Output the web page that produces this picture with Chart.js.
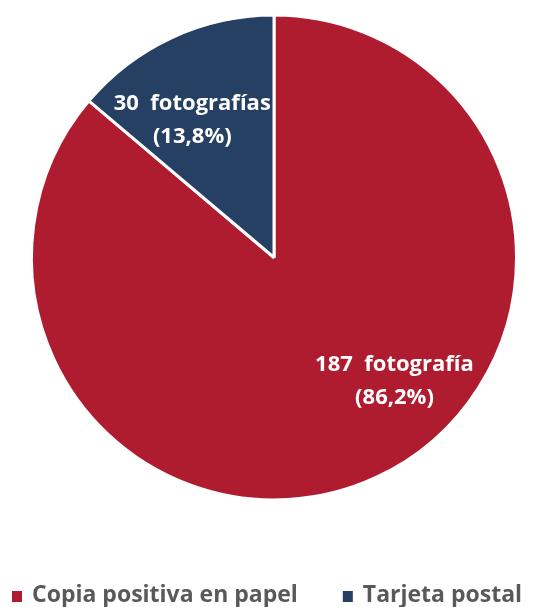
<!DOCTYPE html>
<html>
<head>
<meta charset="utf-8">
<script src="https://cdn.jsdelivr.net/npm/chart.js@4"></script>
<style>
  html, body { margin: 0; padding: 0; background: #ffffff; }
  #wrap { width: 552px; height: 607px; position: relative; }
</style>
</head>
<body>
<div id="wrap"><canvas id="c" width="552" height="607"></canvas></div>
<script>
// Photographs by support type
const categories = ['Copia positiva en papel', 'Tarjeta postal'];
const counts = [187, 30];
const countWords = ['fotografía', 'fotografías'];
const sliceColors = ['#AF1C2F', '#254062'];

const total = counts.reduce((a, b) => a + b, 0);
const pct = v => (v / total * 100).toFixed(1).replace('.', ',') + '%';

// Where each in-slice label sits: angle (deg, clockwise from 3 o'clock) and fraction of the radius
const labelPlacement = [
  { angle: 45.6, frac: 0.71 },
  { angle: -120.7, frac: 0.66 }
];

const labelFont = 'bold 22px "Open Sans", Lato, sans-serif';
const legendFont = 'bold 23px "Open Sans", Lato, sans-serif';

const sliceLabelPlugin = {
  id: 'sliceLabels',
  afterDatasetsDraw(chart) {
    const ctx = chart.ctx;
    const meta = chart.getDatasetMeta(0);
    ctx.save();
    ctx.fillStyle = '#ffffff';
    ctx.font = labelFont;
    ctx.textAlign = 'center';
    ctx.textBaseline = 'middle';
    meta.data.forEach((arc, i) => {
      const p = labelPlacement[i];
      const a = p.angle * Math.PI / 180;
      const r = arc.outerRadius * p.frac;
      const x = arc.x + Math.cos(a) * r;
      const y = arc.y + Math.sin(a) * r;
      ctx.fillText(counts[i] + '  ' + countWords[i], x, y - 16);
      ctx.fillText('(' + pct(counts[i]) + ')', x, y + 17);
    });
    ctx.restore();
  }
};

const bottomLegendPlugin = {
  id: 'bottomLegend',
  afterDraw(chart) {
    const ctx = chart.ctx;
    ctx.save();
    ctx.font = legendFont;
    ctx.textBaseline = 'middle';
    ctx.textAlign = 'left';
    const y = 596;
    let x = 12;
    categories.forEach((name, i) => {
      ctx.fillStyle = sliceColors[i];
      ctx.fillRect(x, y - 5, 10, 11);
      ctx.fillStyle = '#595959';
      ctx.fillText(name, x + 20, y - 1);
      x += 20 + ctx.measureText(name).width + 45;
    });
    ctx.restore();
  }
};

new Chart(document.getElementById('c'), {
  type: 'pie',
  data: {
    labels: categories,
    datasets: [{
      data: counts,
      backgroundColor: sliceColors,
      borderColor: '#ffffff',
      borderWidth: 3
    }]
  },
  options: {
    responsive: false,
    animation: false,
    layout: { padding: { left: 30, right: 34, top: 13, bottom: 105 } },
    plugins: {
      legend: { display: false },
      tooltip: { enabled: false }
    }
  },
  plugins: [sliceLabelPlugin, bottomLegendPlugin]
});
</script>
</body>
</html>
